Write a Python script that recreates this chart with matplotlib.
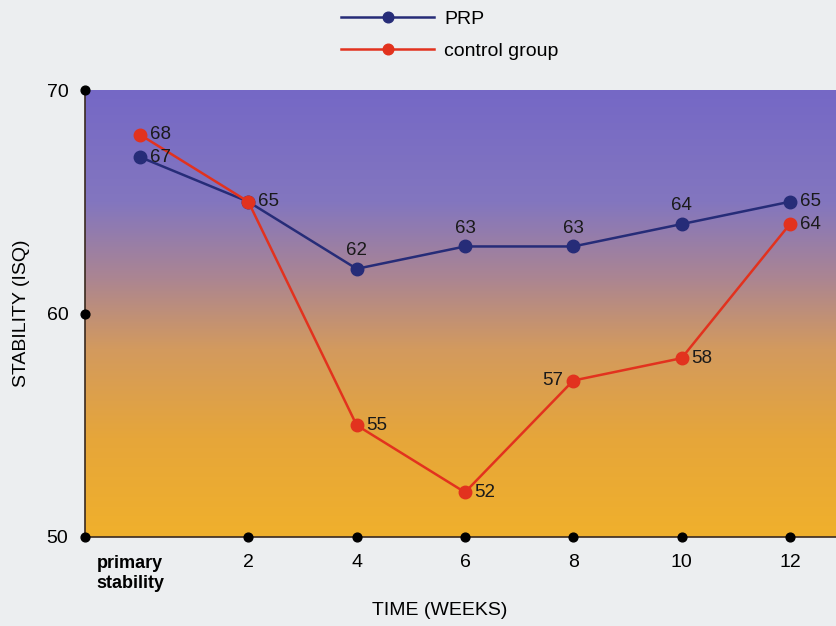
import numpy as np
import matplotlib.pyplot as plt
from matplotlib.colors import LinearSegmentedColormap

plt.rcParams['font.family'] = ['Liberation Sans', 'DejaVu Sans']

# data
time_labels = ['primary\nstability', '2', '4', '6', '8', '10', '12']
prp = [67, 65, 62, 63, 63, 64, 65]
control = [68, 65, 55, 52, 57, 58, 64]
# where the value labels sit relative to each point
prp_pos = ['right', 'right', 'above', 'above', 'above', 'above', 'right']
control_pos = ['right', 'none', 'right', 'right', 'left', 'right', 'right']

x = np.arange(len(time_labels))

fig = plt.figure(figsize=(8.37, 6.26), dpi=100)
fig.patch.set_facecolor('#eceef0')
ax = fig.add_axes([0.1016, 0.1422, 0.8984, 0.714])

ax.set_xlim(-0.508, 6.435)
ax.set_ylim(50, 70)

# gradient background
cmap = LinearSegmentedColormap.from_list('bg', [
    (0.0, '#7568c6'), (0.25, '#8376bf'), (0.42, '#ab8592'),
    (0.58, '#d39a5e'), (0.78, '#e6a63a'), (1.0, '#f0b02c')])
grad = np.linspace(1, 0, 256).reshape(-1, 1)
ax.imshow(grad, cmap=cmap, aspect='auto', extent=[-0.508, 6.435, 50, 70],
          origin='lower', zorder=0)

navy = '#262c78'
red = '#e2321e'
ax.plot(x, prp, color=navy, lw=1.8, marker='o', ms=9, zorder=3)
ax.plot(x, control, color=red, lw=1.8, marker='o', ms=9, zorder=4)


def annotate(vals, pos):
    for xi, v, p in zip(x, vals, pos):
        if p == 'right':
            ax.annotate(str(v), (xi, v), xytext=(7, 0), textcoords='offset points',
                        ha='left', va='center', fontsize=13.5, color='#1a1a1a', zorder=5)
        elif p == 'left':
            ax.annotate(str(v), (xi, v), xytext=(-7, 0), textcoords='offset points',
                        ha='right', va='center', fontsize=13.5, color='#1a1a1a', zorder=5)
        elif p == 'above':
            ax.annotate(str(v), (xi, v), xytext=(0, 7), textcoords='offset points',
                        ha='center', va='bottom', fontsize=13.5, color='#1a1a1a', zorder=5)


annotate(prp, prp_pos)
annotate(control, control_pos)

# axes styling
for s in ['top', 'right']:
    ax.spines[s].set_visible(False)
for s in ['left', 'bottom']:
    ax.spines[s].set_color('#3a2a20')
    ax.spines[s].set_linewidth(1.2)

ax.set_yticks([50, 60, 70])
ax.set_yticklabels(['50', '60', '70'], fontsize=14)
ax.set_xticks(x)
ax.set_xticklabels([''] + time_labels[1:], fontsize=14)
ax.tick_params(length=0, pad=12)
ax.tick_params(axis='y', pad=12)

# first category label sits a little left of its point and is bold
ax.annotate(time_labels[0], (x[0], 50), xytext=(-7, -13), textcoords='offset points',
            ha='center', va='top', fontsize=13, fontweight='bold',
            annotation_clip=False, linespacing=1.2)

# dot tick marks
ax.scatter([-0.508] * 3, [50, 60, 70], s=40, color='black', clip_on=False, zorder=6)
ax.scatter(x[1:], [50] * 6, s=40, color='black', clip_on=False, zorder=6)

ax.set_ylabel('STABILITY (ISQ)', fontsize=14, labelpad=12)
ax.set_xlabel('TIME (WEEKS)', fontsize=14)
ax.xaxis.set_label_coords(0.472, -0.145)

ax.legend(['PRP', 'control group'], loc='lower center', bbox_to_anchor=(0.485, 1.045),
          frameon=False, fontsize=14, handlelength=4.8, handletextpad=0.5,
          labelspacing=0.75, markerscale=0.85, borderpad=0)

fig.savefig('out.png', dpi=100, facecolor=fig.get_facecolor())
